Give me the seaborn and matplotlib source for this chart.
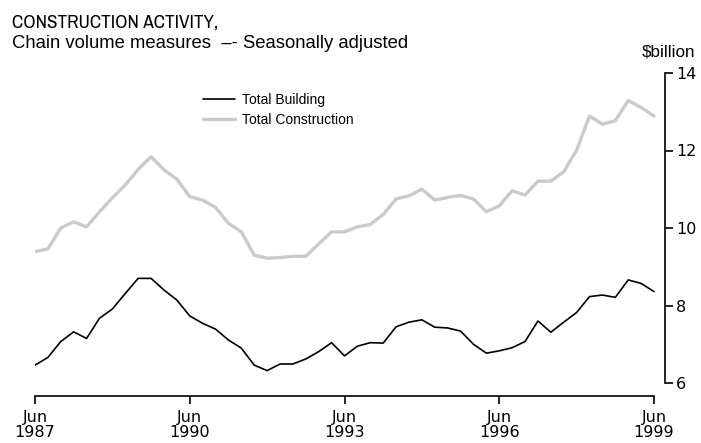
import numpy as np
import pandas as pd
import matplotlib
matplotlib.use("Agg")
import matplotlib.pyplot as plt
from matplotlib import font_manager
import seaborn as sns

# Quarterly series, Jun 1987 to Jun 1999 ($billion, chain volume, seasonally adjusted)
quarter_index = list(range(49))
total_building = [
    6.46, 6.66, 7.07, 7.32, 7.15, 7.67, 7.91, 8.31, 8.70, 8.70,
    8.40, 8.14, 7.73, 7.54, 7.39, 7.11, 6.90, 6.46, 6.32, 6.49,
    6.49, 6.62, 6.81, 7.04, 6.70, 6.95, 7.04, 7.03, 7.45, 7.57,
    7.63, 7.44, 7.42, 7.34, 7.00, 6.77, 6.83, 6.91, 7.07, 7.60,
    7.31, 7.57, 7.82, 8.23, 8.27, 8.21, 8.66, 8.57, 8.36,
]
total_construction = [
    9.39, 9.46, 10.00, 10.16, 10.03, 10.42, 10.78, 11.11, 11.51, 11.84,
    11.50, 11.26, 10.81, 10.72, 10.53, 10.12, 9.90, 9.30, 9.22, 9.24,
    9.27, 9.27, 9.59, 9.90, 9.90, 10.03, 10.09, 10.35, 10.75, 10.83,
    11.00, 10.72, 10.79, 10.84, 10.75, 10.42, 10.57, 10.96, 10.85, 11.21,
    11.21, 11.45, 12.01, 12.89, 12.68, 12.77, 13.29, 13.11, 12.89,
]
tick_positions = [0, 12, 24, 36, 48]
tick_labels = ["Jun\n1987", "Jun\n1990", "Jun\n1993", "Jun\n1996", "Jun\n1999"]
y_ticks = [6, 8, 10, 12, 14]

df = pd.DataFrame({
    "quarter": quarter_index * 2,
    "value": total_building + total_construction,
    "series": ["Total Building"] * 49 + ["Total Construction"] * 49,
})

sns.set_style("white")
plt.rcParams["font.family"] = ["DejaVu Sans"]
plt.rcParams["text.color"] = "black"

# narrow face for the heading line, if one is installed
narrow_names = sorted({f.name for f in font_manager.fontManager.ttflist
                       if "Narrow" in f.name or "Condensed" in f.name})
if "Liberation Sans Narrow" in narrow_names:
    narrow = "Liberation Sans Narrow"
else:
    narrow = narrow_names[0] if narrow_names else None
head_family = [narrow, "DejaVu Sans"] if narrow else ["Liberation Sans", "DejaVu Sans"]
body_family = ["Liberation Sans", "DejaVu Sans"]

W, H = 701, 443
fig = plt.figure(figsize=(W / 100, H / 100), dpi=100)
left, right, top, bottom = 35, 665, 73, 396
ax = fig.add_axes([left / W, 1 - bottom / H, (right - left) / W, (bottom - top) / H])

sns.lineplot(data=df[df.series == "Total Building"], x="quarter", y="value",
             color="black", linewidth=1.2, ax=ax, label="Total Building")
sns.lineplot(data=df[df.series == "Total Construction"], x="quarter", y="value",
             color="#cacaca", linewidth=2.4, ax=ax, label="Total Construction")

ax.set_xlim(0, 48 + 11 / 12.896)
ax.set_ylim(6 - 13 / 38.75, 14)

ax.yaxis.tick_right()
ax.set_yticks(y_ticks)
ax.set_yticklabels([str(v) for v in y_ticks], fontsize=11.5)
ax.set_xticks(tick_positions)
ax.set_xticklabels(tick_labels, fontsize=11.5, linespacing=1.05)
ax.tick_params(axis="both", direction="out", length=6, width=1.2, color="black",
               labelcolor="black", pad=2)
ax.tick_params(axis="x", bottom=True, pad=4)
ax.tick_params(axis="y", right=True, left=False)

for side in ["top", "left"]:
    ax.spines[side].set_visible(False)
for side in ["right", "bottom"]:
    ax.spines[side].set_visible(True)
    ax.spines[side].set_color("black")
    ax.spines[side].set_linewidth(1.2)
ax.spines["right"].set_bounds(6, 14)
ax.spines["bottom"].set_bounds(0, 48)
ax.set_xlabel("")
ax.set_ylabel("")
ax.grid(False)

leg = ax.legend(loc="upper left",
                bbox_to_anchor=((203 - left) / (right - left), 1 - (93 - top) / (bottom - top)),
                frameon=False, fontsize=10, handlelength=2.3, handletextpad=0.5,
                labelspacing=0.45, borderaxespad=0, borderpad=0)
for t in leg.get_texts():
    t.set_family(body_family)
    t.set_fontsize(10)
    t.set_color("black")

fig.text(12 / W, 1 - 27 / H, "CONSTRUCTION ACTIVITY,", family=head_family,
         fontsize=13.8, ha="left", va="baseline", color="black")
fig.text(12 / W, 1 - 48 / H, "Chain volume measures  –- Seasonally adjusted", family=body_family,
         fontsize=13.3, ha="left", va="baseline", color="black")
fig.text(669 / W, 1 - 56 / H, "$billion", family=body_family,
         fontsize=12.3, ha="center", va="baseline", color="black")

fig.savefig("out.png", dpi=100)
